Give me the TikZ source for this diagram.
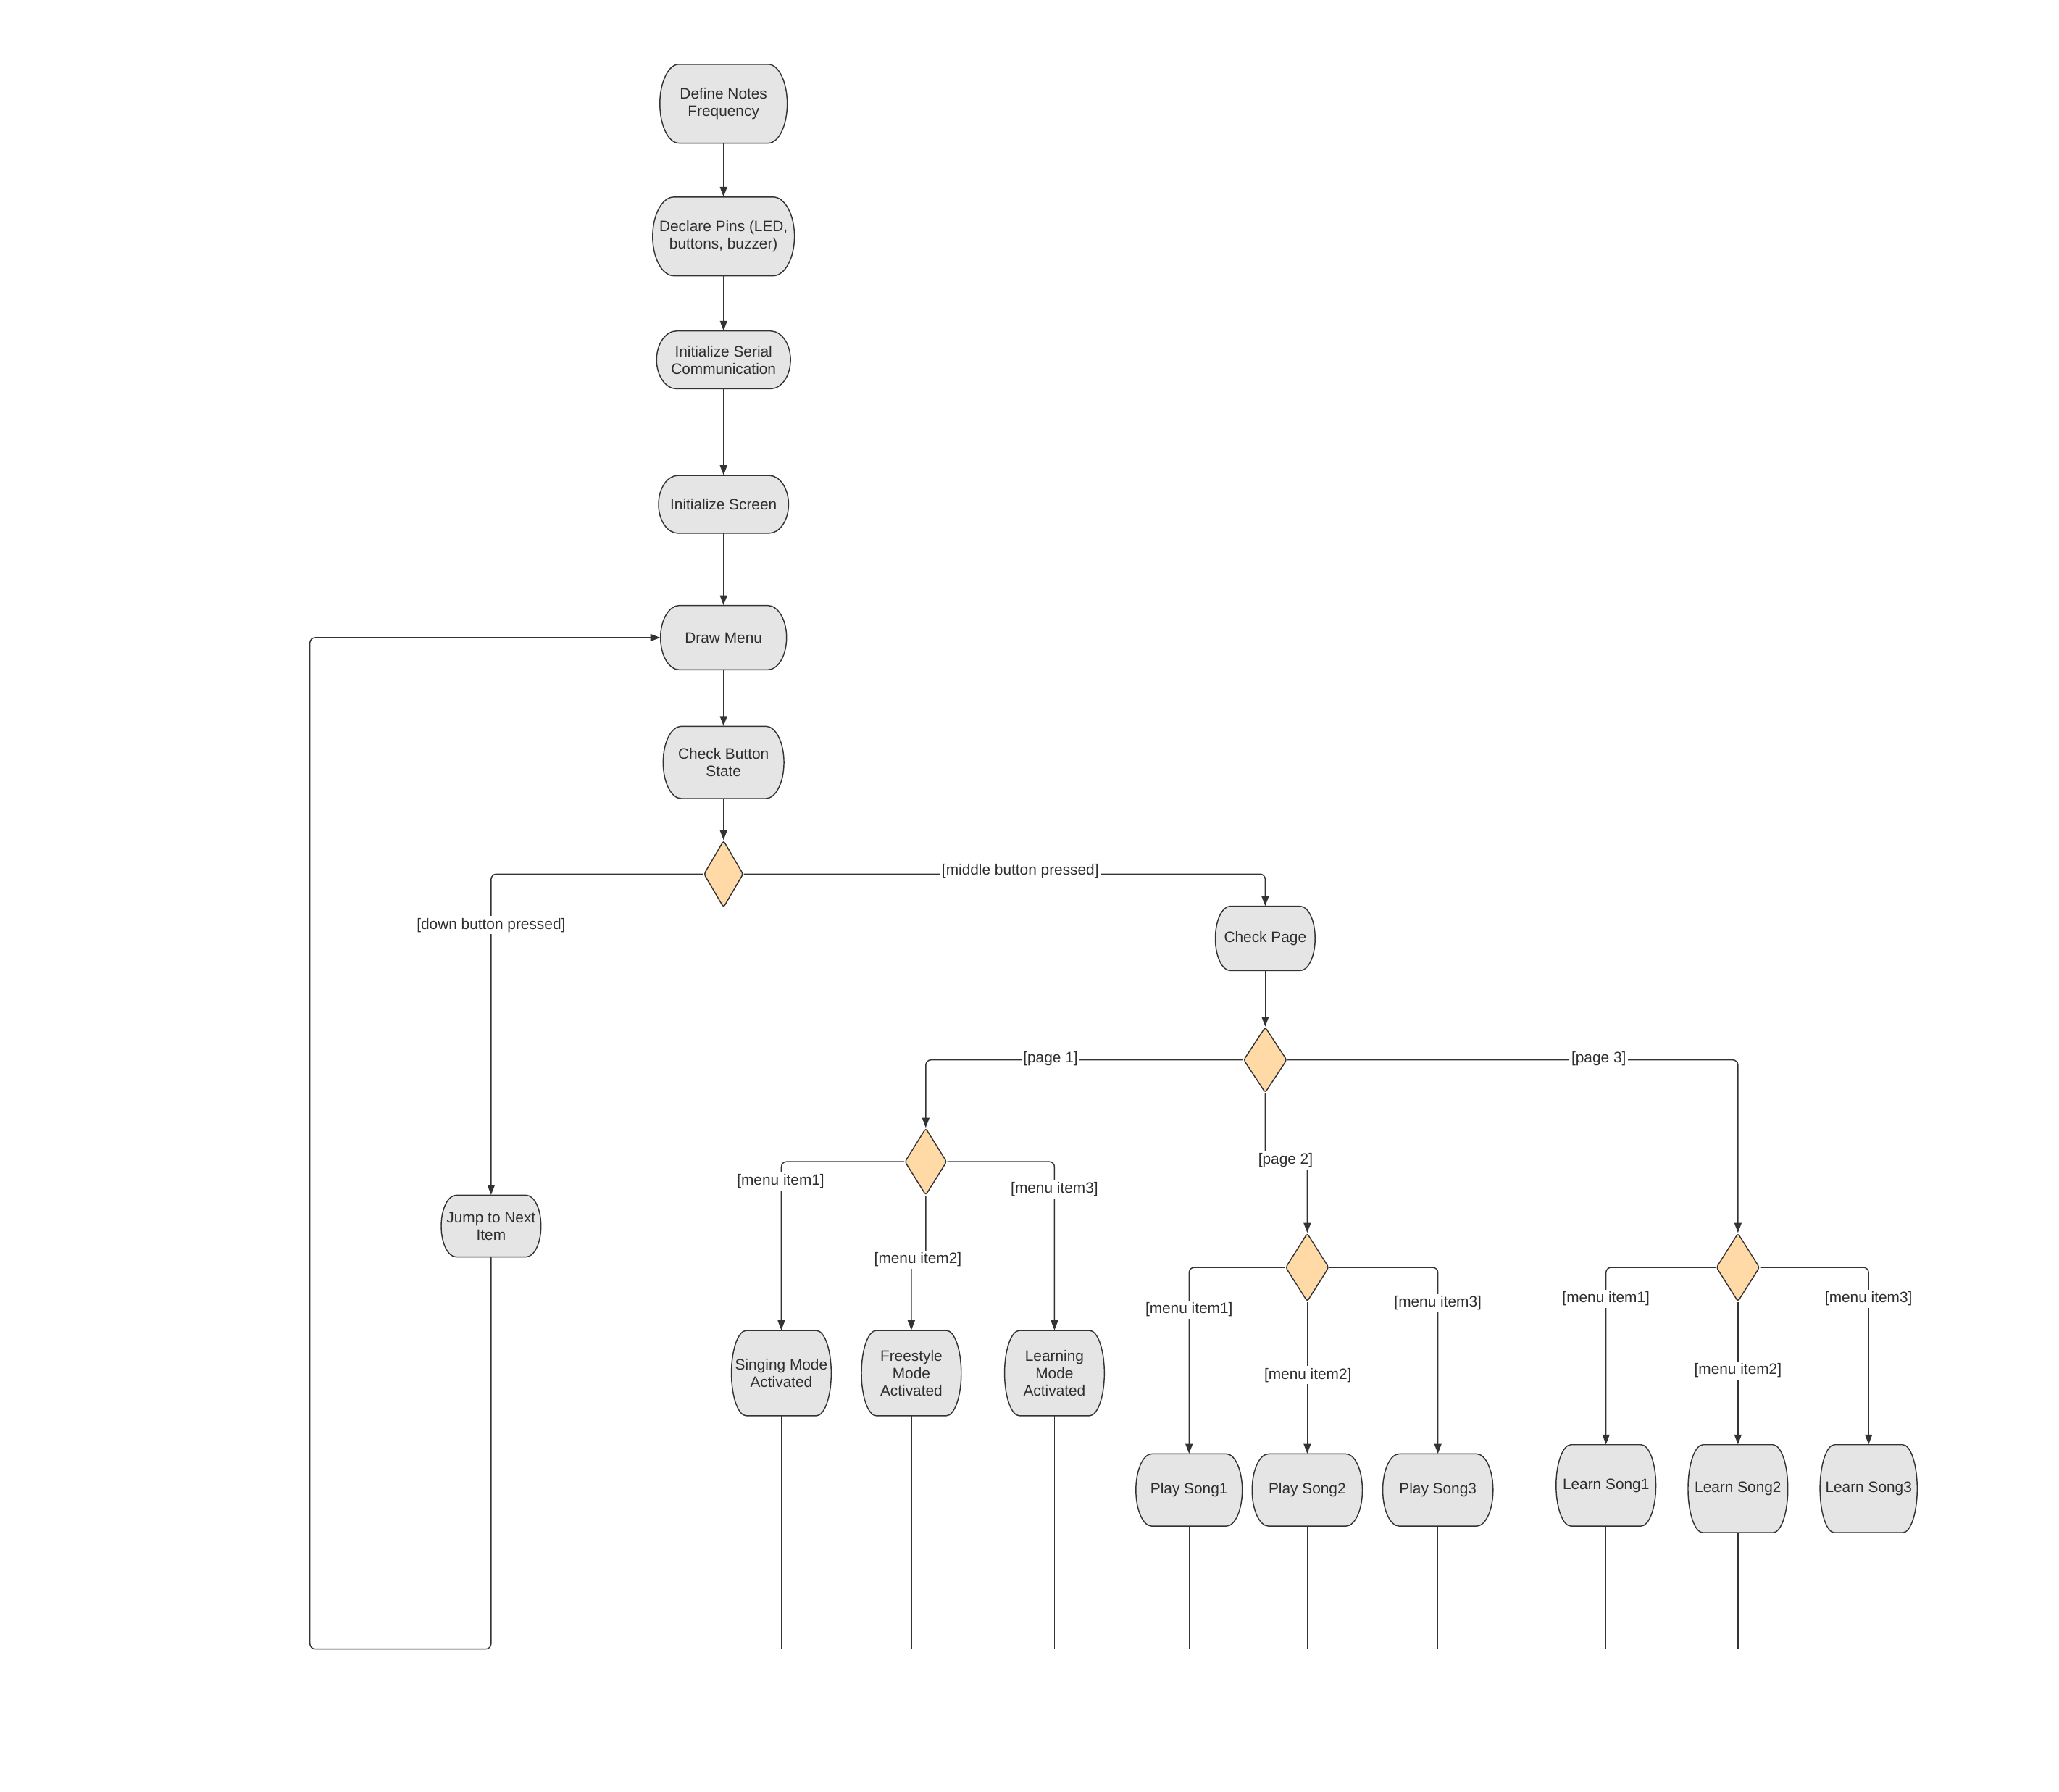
\documentclass[tikz,border=0pt]{standalone}
\usepackage{fontspec}
\setmainfont{Liberation Sans}
\usetikzlibrary{arrows.meta,shapes.geometric}
\definecolor{linec}{HTML}{333333}
\definecolor{actfill}{HTML}{E5E5E5}
\definecolor{decfill}{HTML}{FFD9A6}
\definecolor{textc}{HTML}{2E2E2E}
\tikzset{
  basefont/.style={font=\fontsize{11.5}{13.3}\selectfont, text=textc},
  actshape/.style={draw=linec, fill=actfill, line width=0.8pt},
  acttext/.style={basefont, inner sep=0pt, align=center},
  decnode/.style={diamond, draw=linec, fill=decfill, line width=0.8pt, inner sep=0pt, rounded corners=1.8pt},
  conn/.style={draw=linec, line width=0.8pt, rounded corners=4pt, -{Triangle[length=7.5pt,width=5.5pt]}},
  retline/.style={draw=linec, line width=0.7pt},
  lbl/.style={basefont, fill=white, inner sep=1.5pt}
}
\newcommand\actnode[6]{%
  \pgfmathsetmacro\aL{#2-#4/2}\pgfmathsetmacro\aR{#2+#4/2}%
  \pgfmathsetmacro\aT{#3-#5/2}\pgfmathsetmacro\aB{#3+#5/2}%
  \pgfmathsetmacro\ar{0.15*#4}\pgfmathsetmacro\ak{0.552*\ar}\pgfmathsetmacro\av{0.552*#5/2}%
  \path[actshape] (\aL+\ar,\aT) -- (\aR-\ar,\aT)
    .. controls (\aR-\ar+\ak,\aT) and (\aR,#3-\av) .. (\aR,#3)
    .. controls (\aR,#3+\av) and (\aR-\ar+\ak,\aB) .. (\aR-\ar,\aB)
    -- (\aL+\ar,\aB)
    .. controls (\aL+\ar-\ak,\aB) and (\aL,#3+\av) .. (\aL,#3)
    .. controls (\aL,#3-\av) and (\aL+\ar-\ak,\aT) .. cycle;
  \node[acttext, minimum width=#4, minimum height=#5] (#1) at (#2,#3) {#6};
}
\begin{document}
\begin{tikzpicture}[x=1pt,y=-1pt]
\fill[white] (0,0) rectangle (1568,1364);
\useasboundingbox (0,0) rectangle (1568,1364);

% activity nodes
\actnode{def}{551}{79}{97}{60}{Define Notes\\Frequency}
\actnode{pins}{551}{180}{108}{60}{Declare Pins (LED,\\buttons, buzzer)}
\actnode{serial}{551}{274}{102}{44}{Initialize Serial\\Communication}
\actnode{screen}{551}{384}{99}{44}{Initialize Screen}
\actnode{menu}{551}{485.5}{96}{49}{Draw Menu}
\actnode{check}{551}{580.5}{92}{55}{Check Button\\State}
\actnode{chkpage}{963.5}{714.5}{76}{49}{Check Page}
\actnode{jump}{374}{933.5}{76}{47}{Jump to Next\\Item}
\actnode{sing}{595}{1045.5}{76}{65}{Singing Mode\\Activated}
\actnode{free}{694}{1045.5}{76}{65}{Freestyle\\Mode\\Activated}
\actnode{learnm}{803}{1045.5}{76}{65}{Learning\\Mode\\Activated}
\actnode{ps1}{905.5}{1134.5}{81}{55}{Play Song1}
\actnode{ps2}{995.5}{1134.5}{84}{55}{Play Song2}
\actnode{ps3}{1095}{1134.5}{84}{55}{Play Song3}
\actnode{ls1}{1223}{1131}{76}{62}{Learn Song1}
\actnode{ls2}{1323.5}{1133.5}{76}{67}{Learn Song2}
\actnode{ls3}{1423}{1133.5}{74}{67}{Learn Song3}

% decision nodes
\node[decnode, minimum width=30, minimum height=51] (d1) at (551,665.5) {};
\node[decnode, minimum width=33, minimum height=50] (d2) at (963.5,807) {};
\node[decnode, minimum width=32, minimum height=51] (d3) at (705,884.5) {};
\node[decnode, minimum width=33, minimum height=52] (d4) at (995.5,965) {};
\node[decnode, minimum width=33, minimum height=52] (d5) at (1323.5,965) {};

% helper coordinates
\coordinate (p2y) at (0,883);
\coordinate (m2y) at (0,962);
\coordinate (botL) at (353,1255.5);
\coordinate (loopc) at (236,1255.5);

% main chain
\draw[conn] (def.south) -- (pins.north);
\draw[conn] (pins.south) -- (serial.north);
\draw[conn] (serial.south) -- (screen.north);
\draw[conn] (screen.south) -- (menu.north);
\draw[conn] (menu.south) -- (check.north);
\draw[conn] (check.south) -- (d1.north);

% first decision
\draw[conn] (d1.west) -| (jump.north);
\draw[conn] (d1.east) -| (chkpage.north);
\draw[conn] (chkpage.south) -- (d2.north);

% page decision
\draw[conn] (d2.west) -| (d3.north);
\draw[conn] (d2.south) -- (d2.south |- p2y) -- (d4.north |- p2y) -- (d4.north);
\draw[conn] (d2.east) -| (d5.north);

% page 1 menu
\draw[conn] (d3.west) -| (sing.north);
\draw[conn] (d3.south) -- (d3.south |- m2y) -- (free.north |- m2y) -- (free.north);
\draw[conn] (d3.east) -| (learnm.north);

% page 2 songs
\draw[conn] (d4.west) -| (ps1.north);
\draw[conn] (d4.south) -- (ps2.north);
\draw[conn] (d4.east) -| (ps3.north);

% page 3 songs
\draw[conn] (d5.west) -| (ls1.north);
\draw[conn] (d5.south) -- (ls2.north);
\draw[conn] (d5.east) -| (ls3.north);

% return lines
\draw[retline] ([xshift=2pt]ls3.south) |- (botL);
\foreach \n in {sing,free,learnm,ps1,ps2,ps3,ls1,ls2}{
  \draw[retline] (\n.south) -- (\n.south |- botL);
}
\draw[conn] (jump.south) |- (loopc) |- (menu.west);

% guard labels
\node[lbl] at (374,704.5) {[down button pressed]};
\node[lbl] at (777,663) {[middle button pressed]};
\node[lbl] at (800,806) {[page 1]};
\node[lbl] at (979,883.5) {[page 2]};
\node[lbl] at (1217.5,806) {[page 3]};
\node[lbl] at (594.5,899.5) {[menu item1]};
\node[lbl] at (699,959) {[menu item2]};
\node[lbl] at (803,905.5) {[menu item3]};
\node[lbl] at (905.5,997) {[menu item1]};
\node[lbl] at (996,1047) {[menu item2]};
\node[lbl] at (1095,992) {[menu item3]};
\node[lbl] at (1223,989) {[menu item1]};
\node[lbl] at (1323.5,1043.5) {[menu item2]};
\node[lbl] at (1423,989) {[menu item3]};
\end{tikzpicture}
\end{document}
